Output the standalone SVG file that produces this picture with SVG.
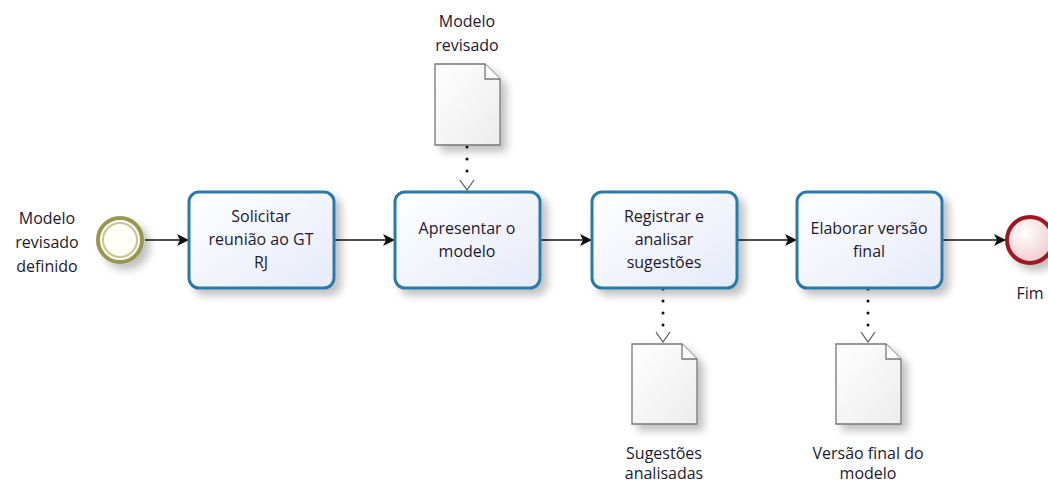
<svg xmlns="http://www.w3.org/2000/svg" width="1048" height="482" viewBox="0 0 1048 482">
<defs>
<linearGradient id="tg" x1="0" y1="0" x2="1" y2="1"><stop offset="0" stop-color="#ffffff"/><stop offset="1" stop-color="#e6eaf8"/></linearGradient>
<linearGradient id="dg" x1="0" y1="0" x2="1" y2="1"><stop offset="0" stop-color="#ffffff"/><stop offset="1" stop-color="#ececec"/></linearGradient>
<radialGradient id="eg" cx="0.4" cy="0.35" r="0.7"><stop offset="0" stop-color="#ffffff"/><stop offset="1" stop-color="#f0c8cc"/></radialGradient>
<filter id="sh" x="-20%" y="-20%" width="150%" height="150%"><feGaussianBlur in="SourceAlpha" stdDeviation="4"/><feOffset dx="6" dy="6"/><feComponentTransfer><feFuncA type="linear" slope="0.25"/></feComponentTransfer><feMerge><feMergeNode/><feMergeNode in="SourceGraphic"/></feMerge></filter>
<marker id="ar" viewBox="0 0 12 12" refX="11" refY="6" markerWidth="12" markerHeight="12" markerUnits="userSpaceOnUse" orient="auto"><path d="M0,0 L12,6 L0,12 L3,6 Z" fill="#111"/></marker>
</defs>
<style>
text{font-family:"Open Sans","Noto Sans","Liberation Sans",sans-serif;font-size:16px;fill:#1e1830;text-anchor:middle}
.task{fill:url(#tg);stroke:#2a7aa8;stroke-width:3}
.doc{fill:url(#dg);stroke:#777;stroke-width:1.3}
.flow{stroke:#111;stroke-width:1.5;fill:none}
.assoc{stroke:#111;stroke-width:3;stroke-dasharray:0 12;stroke-linecap:round;fill:none}
.oa{fill:none;stroke:#555;stroke-width:1.2}
</style>
<g id="connectors">
<line class="flow" x1="145" y1="240" x2="188" y2="240" marker-end="url(#ar)"/>
<line class="flow" x1="335" y1="240" x2="394" y2="240" marker-end="url(#ar)"/>
<line class="flow" x1="541" y1="240" x2="591" y2="240" marker-end="url(#ar)"/>
<line class="flow" x1="738" y1="240" x2="796" y2="240" marker-end="url(#ar)"/>
<line class="flow" x1="943" y1="240" x2="1005" y2="240" marker-end="url(#ar)"/>
<path class="assoc" d="M467,147 L467,172"/>
<path class="oa" d="M460,180 L467,190 L474,180"/>
<path class="assoc" d="M663,289 L663,326"/>
<path class="oa" d="M656,332 L663,342 L670,332"/>
<path class="assoc" d="M868,289 L868,326"/>
<path class="oa" d="M861,332 L868,342 L875,332"/>
</g>
<g id="start">
<circle cx="120" cy="240" r="22" fill="#fffff8" stroke="#9a9650" stroke-width="4" filter="url(#sh)"/>
<circle cx="120" cy="240" r="17" fill="#fffff8" stroke="#c8c490" stroke-width="2"/>
<text x="47" y="224">Modelo</text>
<text x="47" y="248">revisado</text>
<text x="47" y="272">definido</text>
</g>
<g id="task1">
<rect class="task" x="189" y="192" width="145" height="96" rx="10" filter="url(#sh)"/>
<text x="261" y="222">Solicitar</text>
<text x="261" y="245">reunião ao GT</text>
<text x="261" y="268">RJ</text>
</g>
<g id="task2">
<rect class="task" x="395" y="192" width="145" height="96" rx="10" filter="url(#sh)"/>
<text x="467" y="234">Apresentar o</text>
<text x="467" y="257">modelo</text>
</g>
<g id="task3">
<rect class="task" x="592" y="192" width="145" height="96" rx="10" filter="url(#sh)"/>
<text x="664" y="222">Registrar e</text>
<text x="664" y="245">analisar</text>
<text x="664" y="268">sugestões</text>
</g>
<g id="task4">
<rect class="task" x="797" y="192" width="145" height="96" rx="10" filter="url(#sh)"/>
<text x="869" y="234">Elaborar versão</text>
<text x="869" y="257">final</text>
</g>
<g id="end">
<circle cx="1030" cy="240" r="23" fill="url(#eg)" stroke="#a01820" stroke-width="4" filter="url(#sh)"/>
<text x="1030" y="299">Fim</text>
</g>
<g id="doc1">
<path class="doc" d="M435,64 L485,64 L500,79 L500,145 L435,145 Z" filter="url(#sh)"/>
<path d="M485,64 L485,79 L500,79" fill="#fff" stroke="#777" stroke-width="1.3"/>
<text x="467" y="27">Modelo</text>
<text x="467" y="51">revisado</text>
</g>
<g id="doc2">
<path class="doc" d="M632,344 L682,344 L697,359 L697,424 L632,424 Z" filter="url(#sh)"/>
<path d="M682,344 L682,359 L697,359" fill="#fff" stroke="#777" stroke-width="1.3"/>
<text x="664" y="459">Sugestões</text>
<text x="664" y="479">analisadas</text>
</g>
<g id="doc3">
<path class="doc" d="M836,344 L886,344 L901,359 L901,424 L836,424 Z" filter="url(#sh)"/>
<path d="M886,344 L886,359 L901,359" fill="#fff" stroke="#777" stroke-width="1.3"/>
<text x="868" y="459">Versão final do</text>
<text x="868" y="479">modelo</text>
</g>
</svg>
